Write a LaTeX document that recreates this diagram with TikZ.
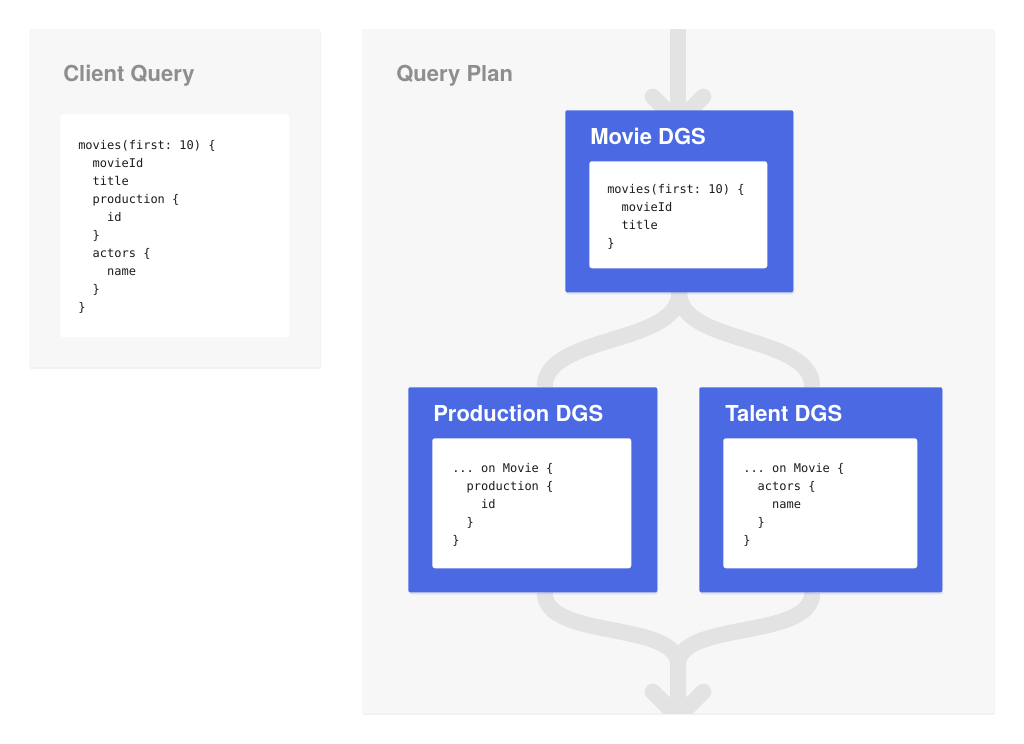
\documentclass[tikz,border=0pt]{standalone}
\usepackage{fontspec}
\setsansfont{TeX Gyre Heros}
\setmonofont{DejaVu Sans Mono}
\usetikzlibrary{arrows.meta,shadows}

\definecolor{panelgray}{HTML}{F7F7F8}
\definecolor{titlegray}{HTML}{8E8E8E}
\definecolor{dgsblue}{HTML}{4A69E2}
\definecolor{flowgray}{HTML}{E3E3E4}
\definecolor{codeblack}{HTML}{1C1C1C}

\pgfdeclarelayer{back}
\pgfdeclarelayer{flow}
\pgfsetlayers{back,flow,main}

\tikzset{
  pxsize/.style 2 args={minimum width=#1*0.75pt, minimum height=#2*0.75pt},
  panel/.style={fill=panelgray, anchor=north west, inner sep=0pt,
    drop shadow={shadow xshift=0.6pt, shadow yshift=-1.2pt, opacity=0.10}},
  dgs/.style={fill=dgsblue, anchor=north west, inner sep=0pt, rounded corners=1.5pt,
    drop shadow={shadow xshift=0.6pt, shadow yshift=-1.5pt, opacity=0.12, fill=dgsblue!60!black}},
  card/.style={fill=white, anchor=north west, inner sep=0pt, rounded corners=2pt},
  heading/.style={anchor=base west, inner sep=0pt, font=\fontsize{16.5}{20}\selectfont\sffamily\bfseries},
  code/.style={anchor=north west, inner sep=0pt, align=left, text=codeblack,
    font=\fontsize{9}{13.5}\selectfont\ttfamily\frenchspacing},
  flow/.style={draw=flowgray, line width=12pt, >={Straight Barb[length=19pt, width=38pt, round]}}
}

\begin{document}
\begin{tikzpicture}[x=0.75pt, y=-0.75pt]
\useasboundingbox (0,0) rectangle (1024,743);

% panels
\begin{pgfonlayer}{back}
\fill[white] (0,0) rectangle (1024,743);
\node[panel, pxsize={291}{338}] (client) at (29,29) {};
\node[panel, pxsize={632}{684}] (plan) at (362,29) {};
\end{pgfonlayer}
\node[heading, text=titlegray] (clienttitle) at (63,81) {Client Query};
\node[heading, text=titlegray] (plantitle) at (396,81) {Query Plan};

% client query
\node[card, pxsize={229}{223}] (clientcard) at (60,114) {};
\node[code] (clientcode) at (78,140) {movies(first: 10) \{\\
\phantom{xx}movieId\\
\phantom{xx}title\\
\phantom{xx}production \{\\
\phantom{xxxx}id\\
\phantom{xx}\}\\
\phantom{xx}actors \{\\
\phantom{xxxx}name\\
\phantom{xx}\}\\
\}};

% services
\node[dgs, pxsize={228}{182}] (movie) at (565,110) {};
\node[dgs, pxsize={249}{205}] (production) at (408,387) {};
\node[dgs, pxsize={243}{205}] (talent) at (699,387) {};
\node[heading, text=white] (movietitle) at (590,144) {Movie DGS};
\node[heading, text=white] (productiontitle) at (433,421) {Production DGS};
\node[heading, text=white] (talenttitle) at (725,421) {Talent DGS};

\node[card, pxsize={178}{107}] (moviecard) at (589,161) {};
\node[card, pxsize={199}{130}] (productioncard) at (432,438) {};
\node[card, pxsize={194}{130}] (talentcard) at (723,438) {};

\node[code] (moviecode) at (607,184) {movies(first: 10) \{\\
\phantom{xx}movieId\\
\phantom{xx}title\\
\}};
\node[code] (productioncode) at (452,463) {... on Movie \{\\
\phantom{xx}production \{\\
\phantom{xxxx}id\\
\phantom{xx}\}\\
\}};
\node[code] (talentcode) at (743,463) {... on Movie \{\\
\phantom{xx}actors \{\\
\phantom{xxxx}name\\
\phantom{xx}\}\\
\}};

% flow through the plan
\coordinate (in) at (678,29);
\coordinate (inend) at (678,130);
\coordinate (merge) at (678,665);
\coordinate (out) at (678,725);
\begin{pgfonlayer}{flow}
\begin{scope}
\clip (plan.north west) rectangle (plan.south east);
\draw[flow, ->] (in) -- (inend);
\draw[flow] (movie.south) .. controls +(0,53) and +(0,-53) .. ([xshift=9pt]production.north);
\draw[flow] (movie.south) .. controls +(0,53) and +(0,-53) .. ([xshift=-6.4pt]talent.north);
\draw[flow, ->] ([xshift=9pt]production.south) .. controls +(0,48) and +(0,-45) .. (merge) -- (out);
\draw[flow] ([xshift=-6.4pt]talent.south) .. controls +(0,48) and +(0,-45) .. (merge);
\end{scope}
\end{pgfonlayer}
\end{tikzpicture}
\end{document}
